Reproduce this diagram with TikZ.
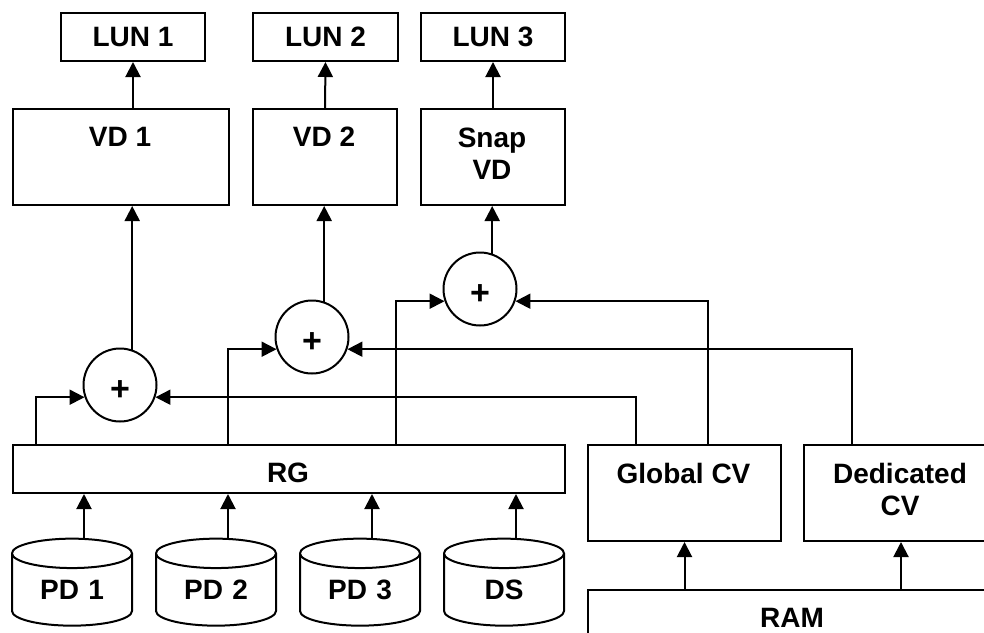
\documentclass[tikz,border=0pt]{standalone}
\usepackage{fontspec}
\setmainfont{Liberation Sans}
\usetikzlibrary{arrows.meta,shapes.geometric}

\begin{document}
\begin{tikzpicture}[x=1pt,y=-1pt,
  every node/.style={font=\bfseries\fontsize{28}{32}\selectfont, align=center},
  box/.style={draw, line width=2pt, rectangle, inner sep=0pt, anchor=north west},
  sum/.style={draw, circle, line width=2pt, minimum size=73pt, inner sep=0pt},
  plus/.style={font=\bfseries\fontsize{34}{34}\selectfont, yshift=-6pt},
  disk/.style={draw, cylinder, shape border rotate=90, aspect=0.42, minimum width=120pt, minimum height=87pt, text width=70pt, line width=2pt, inner sep=0pt},
  arr/.style={line width=2pt, -{Triangle[length=15pt,width=15pt]}}]
\clip (0,0) rectangle (984,632);
% LUNs and virtual disks
\node[box, minimum width=144pt, minimum height=48pt] (LUN1) at (60,12) {LUN 1};
\node[box, minimum width=145pt, minimum height=48pt] (LUN2) at (252,12) {LUN 2};
\node[box, minimum width=144pt, minimum height=48pt] (LUN3) at (420,12) {LUN 3};
\node[box, minimum width=216pt, minimum height=96pt] (VD1) at (12,108) {};
\node[box, minimum width=144pt, minimum height=96pt] (VD2) at (252,108) {};
\node[box, minimum width=144pt, minimum height=96pt] (SVD) at (420,108) {};
\node (VD1t) at (120,137) {VD 1};
\node (VD2t) at (324,137) {VD 2};
\node (SVDt) at (492,153.5) {Snap\\VD};
% adders
\node[sum, label={[plus]center:+}] (S1) at (120,385) {};
\node[sum, label={[plus]center:+}] (S2) at (312,337) {};
\node[sum, label={[plus]center:+}] (S3) at (480,289) {};
% RAID group, cache volumes, RAM
\node[box, minimum width=552pt, minimum height=48pt] (RG) at (12,444) {};
\node[box, minimum width=193pt, minimum height=96pt] (GCV) at (587,444) {};
\node[box, minimum width=194pt, minimum height=96pt] (DCV) at (803,444) {};
\node[box, minimum width=410pt, minimum height=96pt] (RAM) at (587,589) {};
\node (RGt) at (288,473) {RG};
\node (GCVt) at (683.5,473) {Global CV};
\node (DCVt) at (900,489) {Dedicated\\CV};
\node (RAMt) at (792,618) {RAM};
% disks
\node[disk] (PD1) at (72,590) {PD 1};
\node[disk] (PD2) at (216,590) {PD 2};
\node[disk] (PD3) at (360,590) {PD 3};
\node[disk] (DS) at (504,590) {DS};

\draw[arr] (VD1.north -| LUN1.south) -- (LUN1.south);
\draw[arr] (VD2.north) -- (LUN2.south);
\draw[arr] (SVD.north) -- (LUN3.south);
\draw[arr] (S1.71) -- (S1.71 |- VD1.south);
\draw[arr] (S2.71) -- (S2.71 |- VD2.south);
\draw[arr] (S3.71) -- (S3.71 |- SVD.south);
\draw[arr] ([xshift=24pt]RG.north west) |- (S1.199);
\draw[arr] ([xshift=216pt]RG.north west) |- (S2.199);
\draw[arr] ([xshift=384pt]RG.north west) |- (S3.199);
\draw[arr] ([xshift=49pt]GCV.north west) |- (S1.-19);
\draw[arr] ([xshift=121pt]GCV.north west) |- (S3.-19);
\draw[arr] ([xshift=49pt]DCV.north west) |- (S2.-19);
\draw[arr] ([xshift=12pt]PD1.north) -- ([xshift=12pt]PD1.north |- RG.south);
\draw[arr] ([xshift=12pt]PD2.north) -- ([xshift=12pt]PD2.north |- RG.south);
\draw[arr] ([xshift=12pt]PD3.north) -- ([xshift=12pt]PD3.north |- RG.south);
\draw[arr] ([xshift=12pt]DS.north) -- ([xshift=12pt]DS.north |- RG.south);
\draw[arr] (RAM.north -| GCV.south) -- (GCV.south);
\draw[arr] (RAM.north -| DCV.south) -- (DCV.south);
\end{tikzpicture}
\end{document}
